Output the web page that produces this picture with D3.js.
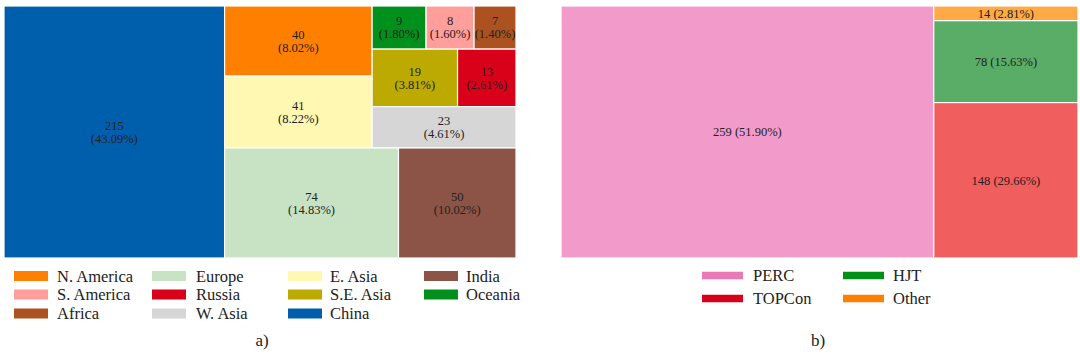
<!DOCTYPE html>
<html>
<head>
<meta charset="utf-8">
<script src="https://cdn.jsdelivr.net/npm/d3@7"></script>
<style>
  html, body { margin: 0; padding: 0; background: #fff; }
  svg { display: block; }
</style>
</head>
<body>
<svg id="chart" width="1080" height="357"></svg>
<script>
// ---------- DATA ----------
const regions = ["China", "Europe", "India", "E. Asia", "N. America", "W. Asia", "S.E. Asia", "Russia", "Oceania", "S. America", "Africa"];
const regionValues = [215, 74, 50, 41, 40, 23, 19, 13, 9, 8, 7];
const regionColors = ["#005fad", "#c7e3c4", "#8b5446", "#fff8b2", "#ff7f00", "#d6d6d6", "#bdaa00", "#d9001a", "#00901b", "#ff9e9a", "#ab5220"];
const regionLegendOrder = ["N. America", "S. America", "Africa", "Europe", "Russia", "W. Asia", "E. Asia", "S.E. Asia", "China", "India", "Oceania"];

const techs = ["PERC", "TOPCon", "HJT", "Other"];
const techValues = [259, 148, 78, 14];
const techFill = ["#f29bca", "#f05e5d", "#5aad66", "#ffaa44"];
const techLegendColors = ["#e97ab6", "#d7001a", "#009018", "#ff7f00"];
const techLegendOrder = ["PERC", "TOPCon", "HJT", "Other"];

const panelLabels = ["a)", "b)"];

// ---------- LAYOUT STRUCTURE (grouping of cells; "h" = side by side, "v" = stacked) ----------
const regionGroups = {dir: "h", children: [
  "China",
  {dir: "v", children: [
    {dir: "h", children: [
      {dir: "v", children: ["N. America", "E. Asia"]},
      {dir: "v", children: [
        {dir: "h", children: ["Oceania", "S. America", "Africa"]},
        {dir: "h", children: ["S.E. Asia", "Russia"]},
        "W. Asia"
      ]}
    ]},
    {dir: "h", children: ["Europe", "India"]}
  ]}
]};
const techGroups = {dir: "h", firstFrac: 0.721, children: [
  "PERC",
  {dir: "v", children: ["Other", "HJT", "TOPCon"]}
]};

const FONT = "'Liberation Serif', 'DejaVu Serif', serif";
const svg = d3.select("#chart");
const fmtPct = d3.format(".2f");

function buildTree(spec, names, values) {
  if (typeof spec === "string") {
    const i = names.indexOf(spec);
    return {name: spec, value: values[i], idx: i};
  }
  return {dir: spec.dir, firstFrac: spec.firstFrac, children: spec.children.map(c => buildTree(c, names, values))};
}

function tile(node, x0, y0, x1, y1) {
  const d = node.data;
  if (d.firstFrac != null && node.children.length === 2) {
    const xm = x0 + (x1 - x0) * d.firstFrac;
    const [a, b] = node.children;
    a.x0 = x0; a.x1 = xm; a.y0 = y0; a.y1 = y1;
    b.x0 = xm; b.x1 = x1; b.y0 = y0; b.y1 = y1;
    return;
  }
  if (d.dir === "h") d3.treemapDice(node, x0, y0, x1, y1);
  else d3.treemapSlice(node, x0, y0, x1, y1);
}

function drawTreemap(spec, names, values, fills, box, twoLine) {
  const total = d3.sum(values);
  const root = d3.hierarchy(buildTree(spec, names, values)).sum(d => d.children ? 0 : d.value);
  d3.treemap().tile(tile).size([box.w, box.h]).round(false)(root);
  const g = svg.append("g").attr("transform", `translate(${box.x},${box.y})`);
  const leaves = g.selectAll("g.cell").data(root.leaves()).join("g").attr("class", "cell");
  leaves.append("rect")
    .attr("x", d => d.x0).attr("y", d => d.y0)
    .attr("width", d => d.x1 - d.x0).attr("height", d => d.y1 - d.y0)
    .attr("fill", d => fills[d.data.idx])
    .attr("stroke", "#fff").attr("stroke-width", 1.2);
  leaves.each(function(d) {
    const cx = (d.x0 + d.x1) / 2, cy = (d.y0 + d.y1) / 2;
    const pct = fmtPct(d.data.value / total * 100);
    const t = d3.select(this).append("text")
      .attr("x", cx).attr("text-anchor", "middle")
      .attr("font-family", FONT)
      .attr("font-size", 12.5).attr("fill", "#222");
    if (twoLine) {
      t.append("tspan").attr("x", cx).attr("y", cy - 6.5).attr("dy", "0.35em").text(d.data.value);
      t.append("tspan").attr("x", cx).attr("y", cy + 6.5).attr("dy", "0.35em").text(`(${pct}%)`);
    } else {
      t.attr("y", cy).attr("dy", "0.35em").text(`${d.data.value} (${pct}%)`);
    }
  });
}

drawTreemap(regionGroups, regions, regionValues, regionColors, {x: 4, y: 6, w: 512, h: 252}, true);
drawTreemap(techGroups, techs, techValues, techFill, {x: 561, y: 6, w: 517, h: 252}, false);

// ---------- LEGENDS ----------
function drawLegend(order, names, colors, opt) {
  const g = svg.append("g");
  order.forEach((name, k) => {
    const col = Math.floor(k / opt.rows), row = k % opt.rows;
    const sx = opt.swatchX[col], cy = opt.rowY[row];
    g.append("rect").attr("x", sx).attr("y", cy - opt.sh / 2)
      .attr("width", opt.sw).attr("height", opt.sh)
      .attr("fill", colors[names.indexOf(name)]);
    g.append("text").attr("x", opt.textX[col]).attr("y", cy).attr("dy", "0.35em")
      .attr("font-family", FONT)
      .attr("font-size", opt.fs).attr("fill", "#222").text(name);
  });
}
drawLegend(regionLegendOrder, regions, regionColors, {
  rows: 3, swatchX: [14, 152, 288, 424], textX: [57, 196, 330, 466],
  rowY: [276, 294.5, 313.5], sw: 34, sh: 10, fs: 16.5
});
drawLegend(techLegendOrder, techs, techLegendColors, {
  rows: 2, swatchX: [702, 843], textX: [753, 893],
  rowY: [275.5, 298.5], sw: 41, sh: 7.5, fs: 16.5
});

// ---------- PANEL LABELS ----------
svg.selectAll("text.panel").data(panelLabels).join("text").attr("class", "panel")
  .attr("x", (d, i) => [262, 818][i]).attr("y", 340).attr("dy", "0.35em")
  .attr("text-anchor", "middle").attr("font-family", FONT)
  .attr("font-size", 17).attr("fill", "#222")
  .text(d => d);
</script>
</body>
</html>
